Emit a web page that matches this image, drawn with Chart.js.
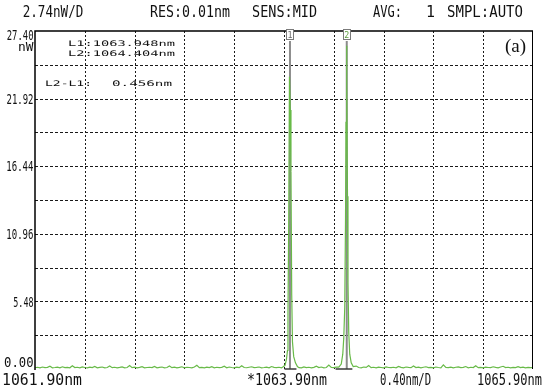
<!DOCTYPE html>
<html>
<head>
<meta charset="utf-8">
<script src="https://cdn.jsdelivr.net/npm/chart.js@4.4.1/dist/chart.umd.min.js"></script>
<style>
  html, body { margin: 0; padding: 0; background: #fff; }
  #osa { display: block; }
</style>
</head>
<body>
<canvas id="osa" width="548" height="389"></canvas>
<script>
//------------------------ DATA ----------------------------

const xMin = 1061.90;
const xMax = 1065.90;
const yMin = 0;
const yMax = 27.40;

// vertical grid every 0.40 nm, horizontal grid every 2.74 nW
const xGrid = [1062.30, 1062.70, 1063.10, 1063.50, 1063.90, 1064.30, 1064.70, 1065.10, 1065.50];
const yGrid = [2.74, 5.48, 8.22, 10.96, 13.70, 16.44, 19.18, 21.92, 24.66];

const yTickValues = [27.40, 21.92, 16.44, 10.96, 5.48, 0.00];
const yTickLabels = ["27.40", "21.92", "16.44", "10.96", "5.48", "0.00"];
const yUnit = "nW";

const headerLabels = ["2.74nW/D", "RES:0.01nm", "SENS:MID", "AVG:", "1", "SMPL:AUTO"];
const xTickLabels = ["1061.90nm", "*1063.90nm", "0.40nm/D", "1065.90nm"];

const markerWavelengths = [1063.948, 1064.404];
const markerNames = ["1", "2"];
const markerTexts = ["L1:1063.948nm", "L2:1064.404nm", "L2-L1:", "0.456nm"];
const markerSpans = [[1063.904, 1064.000], [1064.314, 1064.449]];
const panelLabel = "(a)";

// noise floor, read every 0.02 nm starting at 1061.90
const noiseStart = 1061.90;
const noiseStep = 0.02;
const noiseFloor = [
  0.10, 0.14, 0.09, 0.16, 0.11, 0.13, 0.22, 0.10, 0.12, 0.15,
  0.09, 0.18, 0.11, 0.13, 0.10, 0.26, 0.12, 0.14, 0.10, 0.17,
  0.12, 0.09, 0.15, 0.11, 0.20, 0.10, 0.13, 0.16, 0.09, 0.12,
  0.24, 0.11, 0.14, 0.10, 0.13, 0.17, 0.10, 0.12, 0.28, 0.11,
  0.15, 0.09, 0.13, 0.19, 0.10, 0.12, 0.14, 0.11, 0.21, 0.10,
  0.13, 0.16, 0.09, 0.12, 0.25, 0.11, 0.15, 0.10, 0.13, 0.18,
  0.10, 0.14, 0.12, 0.09, 0.16, 0.30, 0.11, 0.13, 0.10, 0.15,
  0.12, 0.19, 0.10, 0.14, 0.11, 0.13, 0.23, 0.10, 0.16, 0.12,
  0.09, 0.15, 0.11, 0.27, 0.12, 0.10, 0.14, 0.18, 0.11, 0.13,
  0.16, 0.10, 0.12, 0.15, 0.09, 0.20, 0.13, 0.11, 0.14, 0.10,
  0.18, 0.12, 0.26, 0.10, 0.13, 0.15, 0.11, 0.09, 0.17, 0.12,
  0.14, 0.10, 0.13, 0.22, 0.11, 0.16, 0.10, 0.12, 0.31, 0.13,
  0.11, 0.15, 0.10, 0.14, 0.12, 0.19, 0.09, 0.13, 0.11, 0.24,
  0.12, 0.10, 0.16, 0.13, 0.28, 0.11, 0.14, 0.10, 0.15, 0.12,
  0.09, 0.17, 0.12, 0.11, 0.14, 0.10, 0.21, 0.13, 0.10, 0.16,
  0.13, 0.11, 0.25, 0.12, 0.15, 0.10, 0.14, 0.18, 0.11, 0.13,
  0.10, 0.16, 0.12, 0.09, 0.33, 0.12, 0.11, 0.15, 0.10, 0.14,
  0.17, 0.11, 0.13, 0.20, 0.10, 0.14, 0.12, 0.26, 0.11, 0.13,
  0.10, 0.15, 0.12, 0.11, 0.18, 0.13, 0.10, 0.16, 0.22, 0.12,
  0.14, 0.10, 0.13, 0.11, 0.19, 0.12, 0.15, 0.10, 0.13, 0.11,
  0.12
];

// peak around L1
const peak1X = [1063.888, 1063.908, 1063.920, 1063.928, 1063.932, 1063.938, 1063.944, 1063.950, 1063.956, 1063.962, 1063.968, 1063.978, 1063.992, 1064.008];
const peak1Y = [0.15, 0.30, 0.80, 1.50, 4.50, 12.0, 23.7, 21.0, 16.0, 6.0, 2.2, 1.0, 0.50, 0.20];

// peak around L2
const peak2X = [1064.340, 1064.360, 1064.372, 1064.380, 1064.388, 1064.394, 1064.398, 1064.402, 1064.406, 1064.410, 1064.414, 1064.420, 1064.428, 1064.440, 1064.456];
const peak2Y = [0.15, 0.40, 1.20, 2.50, 5.00, 12.0, 20.0, 26.2, 23.0, 14.0, 7.0, 3.0, 1.20, 0.50, 0.20];

//------------------------ BUILD SPECTRUM ----------------------------

function buildSpectrum() {
  const pts = [];
  noiseFloor.forEach((v, i) => {
    const x = noiseStart + i * noiseStep;
    const inPeak1 = x > peak1X[0] - 0.005 && x < peak1X[peak1X.length - 1] + 0.005;
    const inPeak2 = x > peak2X[0] - 0.005 && x < peak2X[peak2X.length - 1] + 0.005;
    if (!inPeak1 && !inPeak2) pts.push({ x: x, y: v });
  });
  peak1X.forEach((x, i) => pts.push({ x: x, y: peak1Y[i] }));
  peak2X.forEach((x, i) => pts.push({ x: x, y: peak2Y[i] }));
  pts.sort((a, b) => a.x - b.x);
  return pts;
}

//------------------------ TEXT HELPER ----------------------------

// draws mono text squeezed/stretched to fit between x0 and x1, cap top at yTop
function fitText(ctx, text, x0, x1, yTop, capH, color) {
  const size = capH / 0.73;
  ctx.save();
  ctx.font = size + 'px "DejaVu Sans Mono"';
  const w = ctx.measureText(text).width;
  ctx.fillStyle = color;
  ctx.textBaseline = "alphabetic";
  ctx.textAlign = "left";
  ctx.translate(x0, yTop + capH);
  ctx.scale((x1 - x0) / w, 1);
  ctx.fillText(text, 0, 0);
  ctx.restore();
}

//------------------------ PLUGINS ----------------------------

const gridPlugin = {
  id: "osaGrid",
  beforeDatasetsDraw(chart) {
    const ctx = chart.ctx;
    const a = chart.chartArea;
    const xs = chart.scales.x;
    const ys = chart.scales.y;

    ctx.save();
    ctx.strokeStyle = "#1a1a1a";
    ctx.lineWidth = 1;

    // horizontal dashed
    ctx.setLineDash([3, 2]);
    yGrid.forEach((v) => {
      const y = Math.round(ys.getPixelForValue(v)) + 0.5;
      ctx.beginPath();
      ctx.moveTo(a.left, y);
      ctx.lineTo(a.right, y);
      ctx.stroke();
    });

    // vertical dotted
    ctx.setLineDash([2, 2]);
    xGrid.forEach((v) => {
      const x = Math.round(xs.getPixelForValue(v)) + 0.5;
      ctx.beginPath();
      ctx.moveTo(x, a.top);
      ctx.lineTo(x, a.bottom);
      ctx.stroke();
    });
    ctx.setLineDash([]);

    // marker lines
    ctx.strokeStyle = "#8c8c8c";
    ctx.lineWidth = 2;
    markerWavelengths.forEach((v) => {
      const x = xs.getPixelForValue(v);
      ctx.beginPath();
      ctx.moveTo(x, a.top + 10);
      ctx.lineTo(x, a.bottom);
      ctx.stroke();
    });

    // marker search spans at the floor
    ctx.strokeStyle = "#3a3a3a";
    ctx.lineWidth = 1.5;
    markerSpans.forEach((s) => {
      ctx.beginPath();
      ctx.moveTo(xs.getPixelForValue(s[0]), a.bottom);
      ctx.lineTo(xs.getPixelForValue(s[1]), a.bottom);
      ctx.stroke();
    });
    ctx.restore();
  },
  afterDatasetsDraw(chart) {
    const ctx = chart.ctx;
    const a = chart.chartArea;
    const xs = chart.scales.x;
    const ys = chart.scales.y;

    ctx.save();
    // frame: left axis, top, right
    ctx.strokeStyle = "#000";
    ctx.lineWidth = 1.5;
    ctx.beginPath();
    ctx.moveTo(a.left, a.bottom + 1);
    ctx.lineTo(a.left, a.top);
    ctx.lineTo(a.right, a.top);
    ctx.stroke();
    ctx.lineWidth = 1;
    ctx.beginPath();
    ctx.moveTo(a.right - 0.5, a.top);
    ctx.lineTo(a.right - 0.5, a.bottom);
    ctx.stroke();

    // marker boxes
    markerWavelengths.forEach((v, i) => {
      const x = xs.getPixelForValue(v);
      ctx.fillStyle = "#fff";
      ctx.fillRect(x - 3.5, a.top - 1, 7, 10);
      ctx.strokeStyle = "#7a7a7a";
      ctx.lineWidth = 1;
      ctx.strokeRect(Math.round(x - 3.5) + 0.5, a.top - 1.5, 7, 10);
      fitText(ctx, markerNames[i], x - 2.5, x + 2.5, a.top + 0.5, 6.5, i === 0 ? "#6a6a6a" : "#5d9e3f");
    });

    // marker readout
    fitText(ctx, markerTexts[0], 68, 175, 40.7, 5.6, "#111");
    fitText(ctx, markerTexts[1], 68, 175, 50.5, 5.6, "#111");
    fitText(ctx, markerTexts[2], 45, 92, 80, 5.6, "#111");
    fitText(ctx, markerTexts[3], 112, 172, 80, 5.6, "#111");

    // panel label
    ctx.font = '19px "Liberation Serif"';
    ctx.fillStyle = "#111";
    ctx.textAlign = "right";
    ctx.textBaseline = "alphabetic";
    ctx.fillText(panelLabel, 526, 52);

    // header
    const headPos = [[22.7, 83.3], [150, 230], [252, 317], [373, 402], [426, 435], [447, 523]];
    headerLabels.forEach((t, i) => fitText(ctx, t, headPos[i][0], headPos[i][1], 5, 11.5, "#111"));

    // y labels
    const yStarts = [6.7, 6.5, 6.3, 6.3, 13.3, 4.0];
    const capY = 10.5;
    yTickValues.forEach((v, i) => {
      let top = ys.getPixelForValue(v) - capY / 2;
      if (top < a.top - 2) top = a.top - 2;
      if (top + capY > a.bottom - 2) top = a.bottom - 2 - capY;
      fitText(ctx, yTickLabels[i], yStarts[i], 33.5, top, capY, "#111");
    });
    fitText(ctx, yUnit, 18, 33.5, 41.7, 9.5, "#111");

    // x labels
    const xPos = [[2, 82], [247, 327], [380, 431], [477, 542]];
    xTickLabels.forEach((t, i) => fitText(ctx, t, xPos[i][0], xPos[i][1], 373, 12, "#111"));
    ctx.restore();
  },
};

//------------------------ CHART ----------------------------

const ctx = document.getElementById("osa").getContext("2d");
const osaChart = new Chart(ctx, {
  type: "line",
  data: {
    datasets: [
      {
        data: buildSpectrum(),
        borderColor: "rgb(104, 186, 72)",
        borderWidth: 1.2,
        pointRadius: 0,
        tension: 0,
        fill: false,
      },
    ],
  },
  options: {
    responsive: false,
    animation: false,
    devicePixelRatio: 1,
    layout: {
      padding: { left: 35, right: 15, top: 31, bottom: 20 },
    },
    plugins: {
      legend: { display: false },
      tooltip: { enabled: false },
    },
    scales: {
      x: { type: "linear", min: xMin, max: xMax, display: false },
      y: { type: "linear", min: yMin, max: yMax, display: false },
    },
  },
  plugins: [gridPlugin],
});
</script>
</body>
</html>
